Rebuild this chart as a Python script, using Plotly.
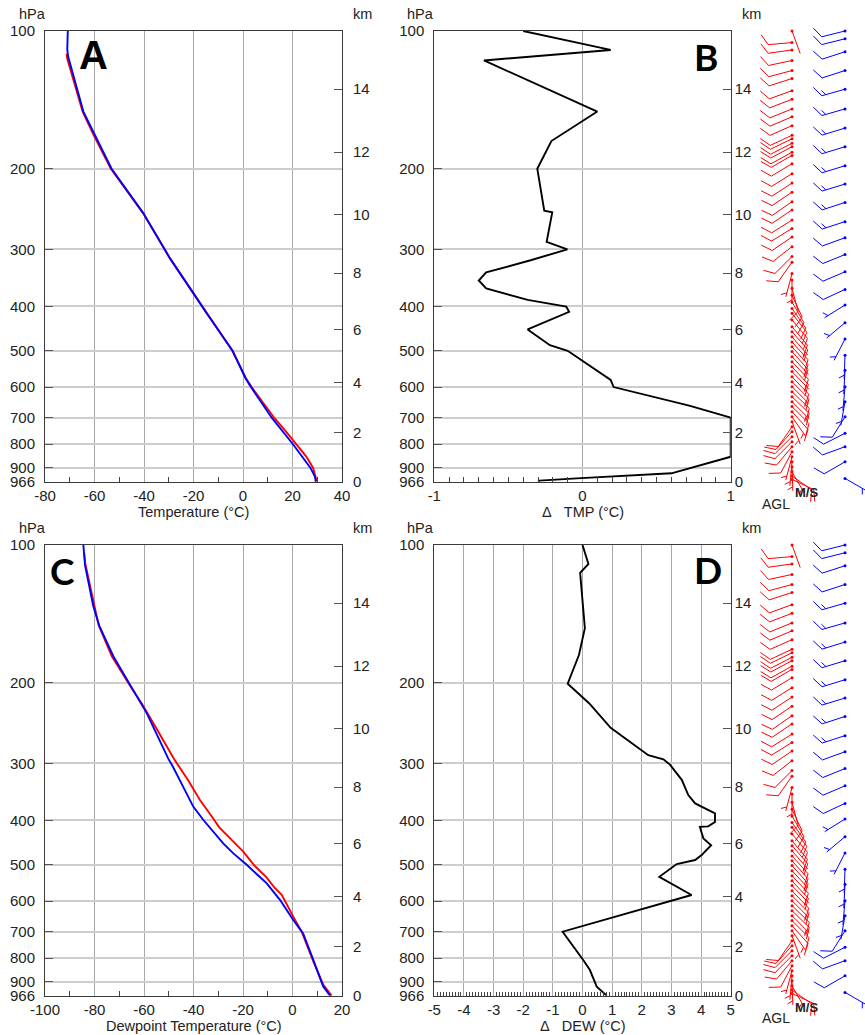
import numpy as np
import plotly.graph_objects as go

W, H = 865, 1035
FONT = "Liberation Sans, Arial, sans-serif"
INK = "#222222"

# ---------------------------------------------------------------- axes labels
p_ticks = [100, 200, 300, 400, 500, 600, 700, 800, 900, 966]
km_ticks = [0, 2, 4, 6, 8, 10, 12, 14]
km_tick_hpa = [966, 756, 587, 450, 338, 252, 184, 134]
P_TOP, P_SFC = 100, 966

temp_ticks = [-80, -60, -40, -20, 0, 20, 40]
dtemp_ticks = [-1, 0, 1]
dew_ticks = [-100, -80, -60, -40, -20, 0, 20]
ddew_ticks = [-5, -4, -3, -2, -1, 0, 1, 2, 3, 4, 5]

# ---------------------------------------------------------------- temperature (°C)
p_temp_ctl = [100, 110, 114, 150, 169, 200, 250, 314, 374, 414, 500, 574, 600,
              700, 800, 900, 940, 966]
temp_ctl = [-70.8, -71.0, -70.6, -64.5, -59.8, -53.1, -40.3, -29.5, -20.1, -14.7,
            -4.2, 1.0, 3.2, 11.6, 20.2, 27.2, 29.0, 29.5]

p_temp_exp = [112, 115, 150, 169, 200, 250, 314, 374, 414, 500, 574, 600, 650,
              700, 750, 800, 850, 900, 940, 955, 966]
temp_exp = [-71.3, -71.0, -64.8, -60.3, -53.4, -40.4, -29.5, -20.1, -14.8, -4.3,
            1.2, 3.5, 8.2, 12.6, 17.3, 21.6, 25.5, 28.3, 29.4, 29.6, 29.2]

# ---------------------------------------------------------------- temperature difference
p_dtemp = [100, 110, 116, 150, 174, 200, 247, 249, 289, 300, 317, 337, 351, 365,
           387, 400, 411, 449, 486, 500, 579, 600, 659, 700, 852, 926, 950, 961, 966]
dtemp = [-0.40, 0.19, -0.665, 0.10, -0.21, -0.305, -0.258, -0.204, -0.242, -0.102,
         -0.35, -0.65, -0.70, -0.65, -0.37, -0.11, -0.09, -0.37, -0.22, -0.10,
         0.19, 0.21, 0.72, 1.0, 1.0, 0.60, -0.04, -0.29, -0.30]

# ---------------------------------------------------------------- dewpoint (°C)
p_dew_ctl = [100, 111, 136, 150, 175, 204, 233, 293, 306, 327, 373, 399, 419, 449,
             472, 500, 549, 597, 660, 706, 807, 922, 966]
dew_ctl = [-84.5, -83.8, -80.5, -78.1, -72.4, -65.0, -58.9, -50.2, -48.2, -45.5,
           -40.1, -36.0, -32.6, -28.0, -23.9, -18.5, -10.4, -5.0, 0.3, 4.3, 8.4,
           12.4, 15.2]

p_dew_exp = [104, 110, 150, 175, 204, 222, 249, 294, 327, 361, 392, 414, 445, 468,
             503, 531, 558, 582, 649, 700, 813, 914, 966]
dew_exp = [-84.2, -83.7, -78.3, -73.0, -65.4, -60.9, -55.5, -47.8, -42.1, -37.4,
           -32.6, -29.6, -23.9, -19.9, -15.2, -10.7, -7.6, -4.3, 0.3, 3.7, 8.4,
           12.4, 15.8]

# ---------------------------------------------------------------- dewpoint difference
p_ddew = [100, 110, 115, 152, 174, 201, 222, 249, 251, 288, 294, 302, 326, 352, 367,
          386, 403, 412, 413, 438, 453, 476, 488, 498, 531, 582, 700, 808, 849, 923, 966]
ddew = [0.0, 0.2, -0.08, 0.08, -0.12, -0.5, 0.23, 0.9, 0.95, 2.22, 2.73, 2.95, 3.35,
        3.57, 3.8, 4.47, 4.47, 4.24, 3.96, 4.08, 4.34, 4.02, 3.8, 3.18, 2.59, 3.68,
        -0.67, 0.03, 0.25, 0.48, 0.82]

# ---------------------------------------------------------------- winds (M/S, direction from)
barb_p_exp = [955, 939, 919, 896, 874, 852, 831, 810, 790, 770, 751, 733, 714, 697,
              679, 662, 646, 630, 614, 599, 584, 570, 555, 542, 528, 515, 502, 490,
              478, 466, 454, 443, 428, 414, 404, 391, 378, 365, 350, 339, 320, 311,
              296, 282, 270, 259, 246, 236, 225, 215, 205, 195, 187, 184, 179, 176,
              172, 169, 161, 154, 148, 141, 135, 127, 122, 116, 110, 106, 100]
barb_dir_exp = [115, 125, 150, 178, 185, 195, 208, 220, 225, 225, 222, 215, 160, 145,
                138, 135, 135, 134, 134, 135, 135, 136, 136, 137, 137, 137, 138, 138,
                138, 139, 139, 140, 140, 142, 145, 150, 155, 165, 180, 195, 215, 225,
                232, 236, 238, 238, 236, 235, 236, 237, 238, 239, 240, 241, 242, 243,
                244, 245, 246, 247, 248, 249, 250, 252, 255, 258, 262, 265, 160]
barb_spd_exp = [10, 10, 5, 5, 5, 5, 10, 10, 10, 10, 10, 10, 5, 5,
                10, 10, 5, 10, 10, 5, 10, 10, 5, 10, 10, 5, 10, 10,
                10, 5, 10, 10, 10, 10, 10, 10, 10, 10, 5, 5, 10, 10,
                10, 10, 10, 10, 10, 10, 10, 10, 10, 10, 10, 10, 10, 10,
                10, 10, 10, 10, 10, 10, 10, 10, 10, 10, 10, 10, 0]

barb_p_ctl = [950, 874, 810, 757, 697, 646, 599, 551, 511, 471, 434, 397, 367, 336,
              308, 283, 261, 237, 216, 197, 179, 163, 148, 134, 122, 111, 104, 100]
barb_dir_ctl = [120, 240, 250, 243, 212, 190, 185, 183, 182, 207, 230, 238, 245, 247,
                248, 250, 252, 252, 253, 253, 253, 253, 254, 254, 252, 252, 256, 256]
barb_spd_ctl = [15, 10, 10, 10, 10, 5, 5, 5, 5, 5, 5, 5, 10, 10,
                10, 10, 15, 15, 15, 15, 15, 15, 15, 15, 10, 10, 10, 10]

RED, BLUE = "#ff0000", "#0000ff"


# ---------------------------------------------------------------- geometry helpers
def dom_x(x0, x1):
    return [x0 / W, x1 / W]


def dom_y(y0, y1):
    return [1 - y1 / H, 1 - y0 / H]


LOG_RANGE = [np.log10(P_SFC), np.log10(P_TOP)]
PANEL_H = 450.7
DEC_PER_PX = (np.log10(P_SFC) - np.log10(P_TOP)) / PANEL_H

LEFT = (45, 342)
RIGHT = (434.3, 730.7)
TOP = (31, 481.7)
BOTTOM = (545, 995.7)

tick_font = dict(family=FONT, size=15, color=INK)


def p_axis(domain, anchor):
    return dict(domain=domain, anchor=anchor, type="log", range=LOG_RANGE,
                tickmode="array", tickvals=p_ticks, ticktext=[str(v) for v in p_ticks],
                ticks="inside", ticklen=8, tickcolor="#555555", tickwidth=1,
                showgrid=True, gridcolor="#cdcdcd", gridwidth=2,
                showline=True, linecolor="#3a3a3a", linewidth=1, mirror=True,
                zeroline=False, tickfont=tick_font, ticklabelstandoff=6,
                automargin=False, fixedrange=True)


def km_axis(overlay, anchor, standoff):
    return dict(overlaying=overlay, anchor=anchor, side="right", type="log",
                range=LOG_RANGE, tickmode="array", tickvals=km_tick_hpa,
                ticktext=[str(k) for k in km_ticks], ticks="inside", ticklen=8,
                tickcolor="#555555", showgrid=False, showline=False, zeroline=False,
                tickfont=tick_font, ticklabelstandoff=standoff, automargin=False,
                fixedrange=True)


def val_axis(domain, anchor, rng, major, minor_vals, minor_len, grid=True):
    return dict(domain=domain, anchor=anchor, range=rng, tickmode="array",
                tickvals=major, ticktext=[str(v) for v in major], ticks="",
                showgrid=grid, gridcolor="#a8a8a8", gridwidth=1,
                minor=dict(tickmode="array", tickvals=minor_vals, ticks="inside",
                           ticklen=minor_len, tickcolor="#444444", showgrid=False),
                showline=True, linecolor="#3a3a3a", linewidth=1, mirror=True,
                zeroline=False, tickfont=tick_font, ticklabelstandoff=0,
                automargin=False, fixedrange=True)


def barb_lines(x0, pres, wdir, wspd, staff=24.0, feather=12.0, gap=4.0, ang=60.0):
    """Wind barb segments in (pixel x, pressure) coordinates."""
    xs, ys = [], []
    th = np.radians(wdir - 90.0)
    ux, uy = np.cos(th), np.sin(th)
    fa = np.radians(wdir - 90.0 + ang)
    fx, fy = np.cos(fa), np.sin(fa)
    segs = [((0.0, 0.0), (staff * ux, staff * uy))]
    spd = int(5 * round(wspd / 5.0))
    n50, rem = divmod(spd, 50)
    n10, rem = divmod(rem, 10)
    n5 = rem // 5
    d = staff
    for _ in range(n50):
        a = (d * ux, d * uy)
        b = (d * ux + feather * fx, d * uy + feather * fy)
        c = ((d - gap) * ux, (d - gap) * uy)
        segs += [(a, b), (b, c)]
        d -= gap * 1.5
    for _ in range(n10):
        segs.append(((d * ux, d * uy), (d * ux + feather * fx, d * uy + feather * fy)))
        d -= gap
    if n5:
        if n10 == 0 and n50 == 0:
            d -= gap
        segs.append(((d * ux, d * uy),
                     (d * ux + 0.5 * feather * fx, d * uy + 0.5 * feather * fy)))
    lp = np.log10(pres)
    for (ax_, ay_), (bx_, by_) in segs:
        xs += [x0 + ax_, x0 + bx_, None]
        ys += [10 ** (lp + ay_ * DEC_PER_PX), 10 ** (lp + by_ * DEC_PER_PX), None]
    return xs, ys


fig = go.Figure()
layout_axes = {}

panels = [
    ("A", LEFT, TOP, 1),
    ("B", RIGHT, TOP, 2),
    ("C", LEFT, BOTTOM, 3),
    ("D", RIGHT, BOTTOM, 4),
]

for name, xd, yd, i in panels:
    xa = "x" if i == 1 else f"x{i}"
    ya = "y" if i == 1 else f"y{i}"
    kid = i + 4
    layout_axes[f"yaxis{'' if i == 1 else i}"] = p_axis(dom_y(*yd), xa)
    layout_axes[f"yaxis{kid}"] = km_axis(ya, xa, 10 if xd == LEFT else 3)
    fig.add_trace(go.Scatter(x=[None], y=[None], xaxis=xa, yaxis=f"y{kid}",
                             showlegend=False, hoverinfo="skip"))

layout_axes["xaxis"] = val_axis(dom_x(*LEFT), "y", [-80, 40], temp_ticks,
                                [-70, -50, -30, -10, 10, 30], 5)
layout_axes["xaxis2"] = val_axis(dom_x(*RIGHT), "y2", [-1, 1], dtemp_ticks,
                                 [k / 10 for k in range(-9, 10) if k != 0], 5)
layout_axes["xaxis3"] = val_axis(dom_x(*LEFT), "y3", [-100, 20], dew_ticks,
                                 [-90, -70, -50, -30, -10, 10], 5)
layout_axes["xaxis4"] = val_axis(dom_x(*RIGHT), "y4", [-5, 5], ddew_ticks,
                                 [k / 10 for k in range(-50, 51) if k % 10 != 0], 4)

# ---- profiles
line_w = 1.9
fig.add_trace(go.Scatter(x=temp_exp, y=p_temp_exp, xaxis="x", yaxis="y", mode="lines",
                         line=dict(color=RED, width=line_w), showlegend=False))
fig.add_trace(go.Scatter(x=temp_ctl, y=p_temp_ctl, xaxis="x", yaxis="y", mode="lines",
                         line=dict(color=BLUE, width=line_w), showlegend=False))
fig.add_trace(go.Scatter(x=dtemp, y=p_dtemp, xaxis="x2", yaxis="y2", mode="lines",
                         line=dict(color="#000000", width=line_w), showlegend=False))
fig.add_trace(go.Scatter(x=dew_exp, y=p_dew_exp, xaxis="x3", yaxis="y3", mode="lines",
                         line=dict(color=RED, width=line_w), showlegend=False))
fig.add_trace(go.Scatter(x=dew_ctl, y=p_dew_ctl, xaxis="x3", yaxis="y3", mode="lines",
                         line=dict(color=BLUE, width=line_w), showlegend=False))
fig.add_trace(go.Scatter(x=ddew, y=p_ddew, xaxis="x4", yaxis="y4", mode="lines",
                         line=dict(color="#000000", width=line_w), showlegend=False))

# ---- wind barb columns (same winds beside both difference panels)
BARB_X = (740, 865)
STN_EXP, STN_CTL = 792, 845
for j, (top, bot, row) in enumerate([(20, 520, TOP), (534, 1035, BOTTOM)]):
    xa, ya = f"x{5 + j}", f"y{9 + j}"
    rng = [np.log10(P_SFC) + (bot - row[1]) * DEC_PER_PX,
           np.log10(P_TOP) - (row[0] - top) * DEC_PER_PX]
    layout_axes[f"xaxis{5 + j}"] = dict(domain=dom_x(*BARB_X), anchor=ya, range=list(BARB_X),
                                        visible=False, automargin=False, fixedrange=True)
    layout_axes[f"yaxis{9 + j}"] = dict(domain=dom_y(top, bot), anchor=xa, type="log",
                                        range=rng, visible=False, automargin=False,
                                        fixedrange=True)
    for stn, ps, ds, ss, col in [(STN_EXP, barb_p_exp, barb_dir_exp, barb_spd_exp, RED),
                                 (STN_CTL, barb_p_ctl, barb_dir_ctl, barb_spd_ctl, BLUE)]:
        bx, by = [], []
        for p, d, s in zip(ps, ds, ss):
            sx, sy = barb_lines(stn, p, d, s)
            bx += sx
            by += sy
        fig.add_trace(go.Scatter(x=bx, y=by, xaxis=xa, yaxis=ya, mode="lines",
                                 line=dict(color=col, width=1), showlegend=False,
                                 hoverinfo="skip"))
        fig.add_trace(go.Scatter(x=[stn] * len(ps), y=ps, xaxis=xa, yaxis=ya,
                                 mode="markers", marker=dict(color=col, size=3),
                                 showlegend=False, hoverinfo="skip"))


# ---- text
def label(s, x, y, size=14.5, family=FONT, color=INK):
    return dict(text=s, x=x / W, y=1 - y / H, xref="paper", yref="paper",
                showarrow=False, xanchor="center", yanchor="middle",
                font=dict(size=size, family=family, color=color))


nb = "\u00a0"
ann = []
for dy in (0, 514):
    ann += [label("hPa", 32.5, 14 + dy), label("hPa", 420.5, 14 + dy),
            label("km", 362.5, 14 + dy), label("km", 751.5, 14 + dy),
            label("<b>M/S</b>", 806, 493 + dy, size=13),
            label("AGL", 776, 504 + dy, size=14)]
ann += [
    label("Temperature (°C)", 193.5, 512),
    label(f"Δ{nb*3}TMP (°C)", 582.5, 512),
    label("Dewpoint Temperature (°C)", 193.5, 1026),
    label(f"Δ{nb*3}DEW (°C)", 582.5, 1026),
    label("<b>A</b>", 93.5, 55, size=40, family="Liberation Sans, Arial", color="#000"),
    label("<b>B</b>", 706, 57, size=37, family="Lato, Carlito, sans-serif", color="#000"),
    label("<b>C</b>", 62, 570, size=37, family="Lato, Carlito, sans-serif", color="#000"),
    label("<b>D</b>", 707.5, 569, size=37, family="Lato, Carlito, sans-serif", color="#000"),
]

fig.update_layout(width=W, height=H,
                  margin=dict(l=0, r=0, t=0, b=0, pad=0, autoexpand=False),
                  paper_bgcolor="white", plot_bgcolor="rgba(0,0,0,0)",
                  showlegend=False, font=dict(family=FONT, color=INK),
                  annotations=ann, **layout_axes)

fig.write_html("out.html")
